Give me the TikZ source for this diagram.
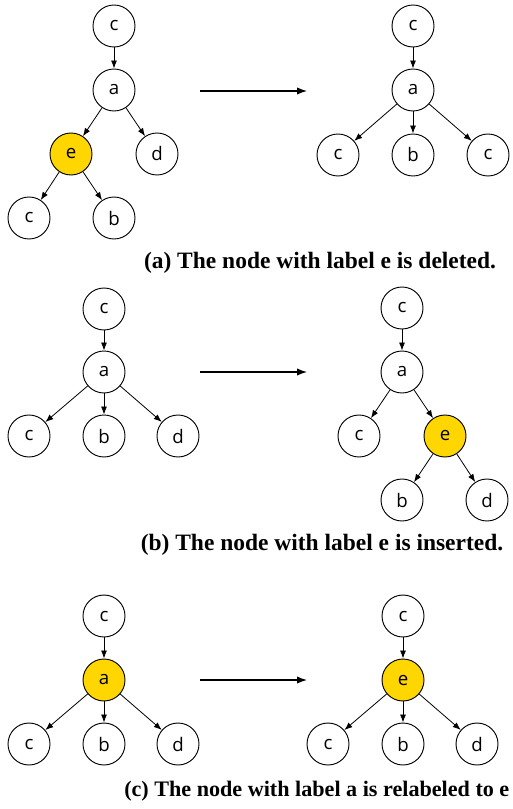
\documentclass[tikz,border=0pt]{standalone}
\usepackage{fontspec}
\setmainfont{Liberation Serif}
\newfontfamily\treefont{Open Sans}
\usetikzlibrary{arrows.meta}

\definecolor{editcol}{RGB}{255,214,0}

\tikzset{
	vert/.style={circle, draw, line width=0.7pt, minimum size=31.5pt, inner sep=0pt,
		font=\treefont\fontsize{14}{14}\selectfont},
	hilite/.style={vert, fill=editcol},
	link/.style={-{Latex[length=6pt,width=4.5pt]}, line width=0.6pt},
	editarrow/.style={-{Latex[length=7.5pt,width=5.5pt]}, line width=0.9pt},
	caption/.style={anchor=base, font=\bfseries\fontsize{17.6}{18}\selectfont}
}

\begin{document}
\begin{tikzpicture}[x=0.75pt, y=0.75pt]
	\useasboundingbox (0,0) rectangle (512,-809);
	% (a) deletion
	\node[vert] (ac0) at (114,-26) {c};
	\node[vert] (aa) at (114,-90) {a};
	\node[hilite] (ae) at (71,-154) {e};
	\node[vert] (ad) at (157,-154) {d};
	\node[vert] (ac1) at (29,-218) {c};
	\node[vert] (ab) at (114,-218) {b};
	\draw[link] (ac0) -- (aa);
	\draw[link] (aa) -- (ae);
	\draw[link] (aa) -- (ad);
	\draw[link] (ae) -- (ac1);
	\draw[link] (ae) -- (ab);
	\coordinate (as) at (200,-91);
	\coordinate (at) at (307,-91);
	\draw[editarrow] (as) -- (at);
	\node[vert] (ax0) at (413,-26) {c};
	\node[vert] (axa) at (413,-90) {a};
	\node[vert] (ax1) at (338,-155) {c};
	\node[vert] (axb) at (413,-155) {b};
	\node[vert] (ax2) at (488,-155) {c};
	\draw[link] (ax0) -- (axa);
	\draw[link] (axa) -- (ax1);
	\draw[link] (axa) -- (axb);
	\draw[link] (axa) -- (ax2);
	\node[caption] (acap) at (320,-268) {(a) The node with label e is deleted.};
	% (b) insertion
	\node[vert] (bc0) at (104,-309) {c};
	\node[vert] (ba) at (104,-372) {a};
	\node[vert] (bc1) at (29,-436) {c};
	\node[vert] (bb) at (104,-436) {b};
	\node[vert] (bd) at (178,-436) {d};
	\draw[link] (bc0) -- (ba);
	\draw[link] (ba) -- (bc1);
	\draw[link] (ba) -- (bb);
	\draw[link] (ba) -- (bd);
	\coordinate (bs) at (200,-372);
	\coordinate (bt) at (307,-372);
	\draw[editarrow] (bs) -- (bt);
	\node[vert] (bx0) at (402,-308) {c};
	\node[vert] (bxa) at (402,-372) {a};
	\node[vert] (bx1) at (359,-436) {c};
	\node[hilite] (bxe) at (445,-436) {e};
	\node[vert] (bxb) at (402,-500) {b};
	\node[vert] (bxd) at (487,-500) {d};
	\draw[link] (bx0) -- (bxa);
	\draw[link] (bxa) -- (bx1);
	\draw[link] (bxa) -- (bxe);
	\draw[link] (bxe) -- (bxb);
	\draw[link] (bxe) -- (bxd);
	\node[caption] (bcap) at (322,-550) {(b) The node with label e is inserted.};
	% (c) relabelling
	\node[vert] (cc0) at (104,-616) {c};
	\node[hilite] (ca) at (104,-680) {a};
	\node[vert] (cc1) at (29,-744) {c};
	\node[vert] (cb) at (104,-744) {b};
	\node[vert] (cd) at (178,-744) {d};
	\draw[link] (cc0) -- (ca);
	\draw[link] (ca) -- (cc1);
	\draw[link] (ca) -- (cb);
	\draw[link] (ca) -- (cd);
	\coordinate (cs) at (200,-680);
	\coordinate (ct) at (307,-680);
	\draw[editarrow] (cs) -- (ct);
	\node[vert] (cx0) at (403,-616) {c};
	\node[hilite] (cxe) at (403,-680) {e};
	\node[vert] (cx1) at (328,-744) {c};
	\node[vert] (cxb) at (403,-744) {b};
	\node[vert] (cxd) at (477,-744) {d};
	\draw[link] (cx0) -- (cxe);
	\draw[link] (cxe) -- (cx1);
	\draw[link] (cxe) -- (cxb);
	\draw[link] (cxe) -- (cxd);
	\node[caption, anchor=base west, inner xsep=0pt, font=\bfseries\fontsize{16.6}{18}\selectfont]
		(ccap) at (124,-796) {(c) The node with label a is relabeled to e};
\end{tikzpicture}
\end{document}
